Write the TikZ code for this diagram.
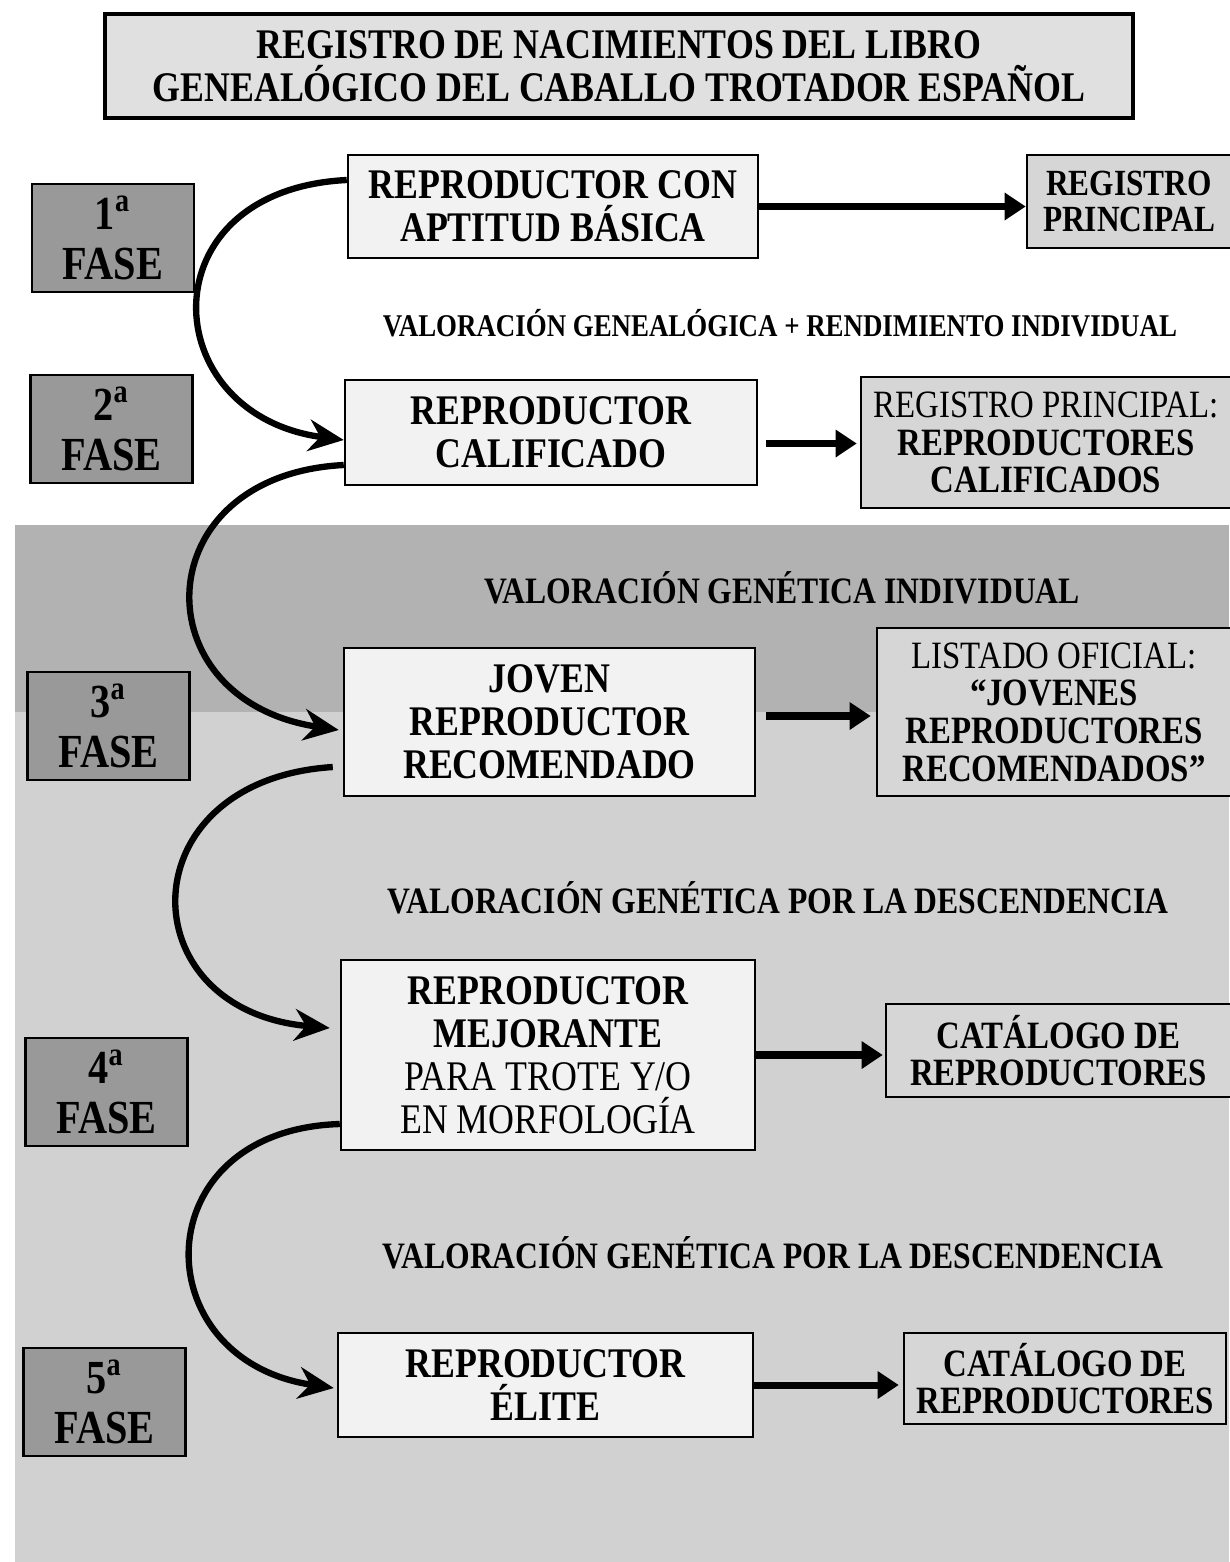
\documentclass[tikz,border=0pt]{standalone}
\usepackage{fontspec}
\setmainfont{Liberation Serif}[FakeStretch=0.85]
\usetikzlibrary{arrows.meta,calc}

\begin{document}
\begin{tikzpicture}[
    phasebox/.style={draw,line width=0.7pt,fill=black!40,minimum width=1.62cm,minimum height=1.08cm,align=center,inner sep=1pt,font=\fontsize{13.5}{14.2}\selectfont\bfseries},
    mainbox/.style={draw,line width=0.7pt,fill=black!5,minimum width=4.1cm,align=center,inner sep=1pt,font=\fontsize{12}{12.2}\selectfont\bfseries},
    listbox/.style={draw,line width=0.7pt,fill=black!16,align=center,inner sep=1pt,font=\fontsize{11}{10.7}\selectfont\bfseries},
    steplabel/.style={inner sep=1pt,font=\fontsize{10.6}{12}\selectfont\bfseries},
    curvearrow/.style={line width=1.8pt,-{Stealth[length=10pt,width=9pt]}},
    flatarrow/.style={line width=2pt,-{Triangle[length=6pt,width=7.5pt]}}
]
    \useasboundingbox (0,0) rectangle (12.29,-15.62);

    % Background
    \fill[white] (0,0) rectangle (12.29,-15.62);
    \fill[black!18] (0.15,-5.25) rectangle (12.29,-15.62);
    \fill[black!30] (0.15,-5.25) rectangle (12.29,-7.12);

    % Title
    \node[draw,line width=1pt,fill=black!12,minimum width=10.28cm,minimum height=1.04cm,align=center,inner sep=1pt,
          font=\fontsize{12}{12.2}\selectfont\bfseries] (title) at (6.19,-0.66)
        {REGISTRO DE NACIMIENTOS DEL LIBRO\\GENEALÓGICO DEL CABALLO TROTADOR ESPAÑOL};

    % Phases
    \node[phasebox] (fase1) at (1.13,-2.38) {1\textsuperscript{a}\\FASE};
    \node[phasebox] (fase2) at (1.115,-4.29) {2\textsuperscript{a}\\FASE};
    \node[phasebox] (fase3) at (1.085,-7.26) {3\textsuperscript{a}\\FASE};
    \node[phasebox] (fase4) at (1.065,-10.92) {4\textsuperscript{a}\\FASE};
    \node[phasebox] (fase5) at (1.045,-14.02) {5\textsuperscript{a}\\FASE};

    % Breeder categories
    \node[mainbox,minimum height=1.03cm] (aptitud) at (5.53,-2.065) {REPRODUCTOR CON\\APTITUD BÁSICA};
    \node[mainbox,minimum width=4.12cm,minimum height=1.05cm] (calificado) at (5.51,-4.325) {REPRODUCTOR\\CALIFICADO};
    \node[mainbox,minimum width=4.11cm,minimum height=1.48cm] (joven) at (5.495,-7.22) {JOVEN\\REPRODUCTOR\\RECOMENDADO};
    \node[mainbox,minimum width=4.14cm,minimum height=1.90cm] (mejorante) at (5.48,-10.55)
        {REPRODUCTOR\\MEJORANTE\\{\mdseries PARA TROTE Y/O}\\{\mdseries EN MORFOLOGÍA}};
    \node[mainbox,minimum width=4.15cm,minimum height=1.04cm] (elite) at (5.455,-13.85) {REPRODUCTOR\\ÉLITE};

    % Registers and lists
    \node[listbox,font=\fontsize{10.5}{10.2}\selectfont\bfseries,minimum width=2.04cm,minimum height=0.93cm] (principal) at (11.29,-2.015) {REGISTRO\\PRINCIPAL};
    \node[listbox,minimum width=3.70cm,minimum height=1.31cm] (registro) at (10.46,-4.425) {{\mdseries REGISTRO PRINCIPAL:}\\REPRODUCTORES\\CALIFICADOS};
    \node[listbox,minimum width=3.54cm,minimum height=1.68cm] (listado) at (10.54,-7.12) {{\mdseries LISTADO OFICIAL:}\\“JOVENES\\REPRODUCTORES\\RECOMENDADOS”};
    \node[listbox,minimum width=3.45cm,minimum height=0.93cm] (catalogo) at (10.585,-10.505) {CATÁLOGO DE\\REPRODUCTORES};
    \node[listbox,minimum width=3.22cm,minimum height=0.91cm] (catalogoelite) at (10.65,-13.785) {CATÁLOGO DE\\REPRODUCTORES};

    % Evaluation steps
    \node[steplabel,font=\fontsize{9}{10}\selectfont\bfseries] (val1) at (7.80,-3.23) {VALORACIÓN GENEALÓGICA + RENDIMIENTO INDIVIDUAL};
    \node[steplabel] (val2) at (7.82,-5.88) {VALORACIÓN GENÉTICA INDIVIDUAL};
    \node[steplabel] (val3) at (7.78,-8.98) {VALORACIÓN GENÉTICA POR LA DESCENDENCIA};
    \node[steplabel] (val4) at (7.73,-12.53) {VALORACIÓN GENÉTICA POR LA DESCENDENCIA};

    % Curved arrows between phases
    \draw[curvearrow] ($(aptitud.west)+(0,0.265)$) .. controls (1.45,-1.9) and (1.55,-4.15) .. ($(calificado.west)+(0,-0.075)$);
    \draw[curvearrow] ($(calificado.west)+(0,-0.325)$) .. controls (1.45,-4.75) and (1.40,-7.0) .. ($(joven.west)+(-0.04,-0.08)$);
    \draw[curvearrow] ($(joven.west)+(-0.1,-0.45)$) .. controls (1.27,-7.8) and (1.27,-10.1) .. ($(mejorante.west)+(-0.1,0.27)$);
    \draw[curvearrow] ($(mejorante.west)+(0,-0.69)$) .. controls (1.43,-11.3) and (1.43,-13.6) .. ($(elite.west)+(-0.03,-0.03)$);

    % Straight arrows to registers
    \draw[flatarrow] (aptitud.east) -- (aptitud.east -| principal.west);
    \draw[flatarrow,shorten <=0.08cm,shorten >=0.03cm] ($(calificado.east)+(0,-0.11)$) -- ($(calificado.east -| registro.west)+(0,-0.11)$);
    \draw[flatarrow,shorten <=0.1cm,shorten >=0.05cm] ($(joven.east)+(0,0.06)$) -- ($(joven.east -| listado.west)+(0,0.06)$);
    \draw[flatarrow,shorten >=0.02cm] (mejorante.east) -- (mejorante.east -| catalogo.west);
    \draw[flatarrow,shorten >=0.04cm] (elite.east) -- (elite.east -| catalogoelite.west);
\end{tikzpicture}
\end{document}
